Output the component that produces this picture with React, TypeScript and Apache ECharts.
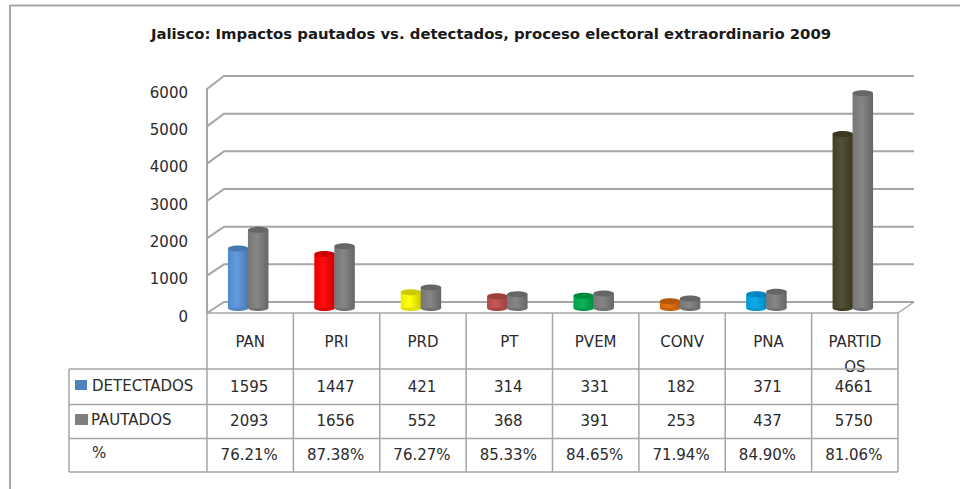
import React, { useEffect, useRef } from "react";
import * as echarts from "echarts";

const categories = ["PAN", "PRI", "PRD", "PT", "PVEM", "CONV", "PNA", "PARTIDOS"];
const detectados = [1595, 1447, 421, 314, 331, 182, 371, 4661];
const pautados = [2093, 1656, 552, 368, 391, 253, 437, 5750];
const porcentajes = ["76.21%", "87.38%", "76.27%", "85.33%", "84.65%", "71.94%", "84.90%", "81.06%"];
const detectadosColors = ["#5a96dc", "#ff0000", "#ffff00", "#c0504d", "#00b050", "#e36c0a", "#00a8ec", "#4a452a"];
const pautadosColor = "#808080";
const yTicks = [0, 1000, 2000, 3000, 4000, 5000, 6000];
const rowLabels = ["DETECTADOS", "PAUTADOS", "%"];
const title = "Jalisco: Impactos pautados vs. detectados, proceso electoral extraordinario 2009";

const FONT = "DejaVu Sans";
const LINE = "#a6a6a6";
const TEXT = "#2b2b2b";
const G = { left: 207, right: 898, top: 89, bottom: 313 };
const ROWS = [369, 404.5, 438.5, 472];
const TABLE_LEFT = 69;
const BAND = (G.right - G.left) / categories.length;

function shade(hex: string, k: number) {
  const n = parseInt(hex.slice(1), 16);
  const f = (c: number) => Math.max(0, Math.min(255, Math.round(k < 1 ? c * k : c + (255 - c) * (k - 1))));
  return `rgb(${f((n >> 16) & 255)},${f((n >> 8) & 255)},${f(n & 255)})`;
}

function cylinder(offset: number, colorAt: (i: number) => string) {
  return (params: any, api: any) => {
    const i = api.value(0);
    const v = api.value(1);
    const cx = api.coord([i, 0])[0] - 2 + offset;
    const y0 = api.coord([i, 0])[1] - 5;
    const y1 = api.coord([i, v])[1] - 5;
    const w = 20.5;
    const ry = 3;
    const c = colorAt(i);
    const grad = new echarts.graphic.LinearGradient(0, 0, 1, 0, [
      { offset: 0, color: shade(c, 0.92) },
      { offset: 0.45, color: shade(c, 1.05) },
      { offset: 1, color: shade(c, 0.8) },
    ]);
    return {
      type: "group",
      children: [
        { type: "ellipse", shape: { cx, cy: y0, rx: w / 2, ry }, style: { fill: shade(c, 0.88) } },
        { type: "rect", shape: { x: cx - w / 2, y: y1, width: w, height: y0 - y1 }, style: { fill: grad } },
        { type: "ellipse", shape: { cx, cy: y1, rx: w / 2, ry }, style: { fill: shade(c, 0.8) } },
      ],
    };
  };
}

function wallLines(params: any, api: any) {
  const v = api.value(0);
  const y = api.coord([0, v])[1];
  const dy = 11 + (2 * v) / 6000;
  const children: any[] = [
    {
      type: "polyline",
      shape: { points: [[G.left, y], [G.left + 17, y - dy], [G.right + 16, y - dy]] },
      style: { fill: "none", stroke: LINE, lineWidth: 2 },
    },
  ];
  if (v === 0) {
    children.push({
      type: "line",
      shape: { x1: G.right, y1: y, x2: G.right + 16, y2: y - dy },
      style: { stroke: LINE, lineWidth: 1.5 },
    });
  }
  return { type: "group", children };
}

function tableGraphics() {
  const els: any[] = [];
  const line = (x1: number, y1: number, x2: number, y2: number, w = 1.5) =>
    els.push({ type: "line", z: 5, shape: { x1, y1, x2, y2 }, style: { stroke: LINE, lineWidth: w } });
  const txt = (s: string, x: number, y: number, align = "center") =>
    els.push({
      type: "text", z: 6, x, y,
      style: { text: s, font: `15px "${FONT}"`, fill: TEXT, align, verticalAlign: "middle" },
    });

  // frame
  line(10, 5.5, 960, 5.5, 2);
  line(10, 5, 10, 489, 2);

  // grid of the table
  for (let i = 0; i <= categories.length; i++) line(G.left + i * BAND, G.bottom, G.left + i * BAND, ROWS[3]);
  line(TABLE_LEFT, ROWS[0], TABLE_LEFT, ROWS[3]);
  ROWS.forEach((y) => line(TABLE_LEFT, y, G.right, y));

  // row headers
  els.push({ type: "rect", z: 6, shape: { x: 75, y: 380, width: 12, height: 10 }, style: { fill: "#4f81bd" } });
  els.push({ type: "rect", z: 6, shape: { x: 75, y: 414, width: 13, height: 11 }, style: { fill: "#7f7f7f" } });
  txt(rowLabels[0], 92, 386, "left");
  txt(rowLabels[1], 91, 420, "left");
  txt(rowLabels[2], 92, 453, "left");

  // row values
  categories.forEach((_, i) => {
    const cx = G.left + (i + 0.5) * BAND - 1;
    txt(String(detectados[i]), cx, 387);
    txt(String(pautados[i]), cx, 421);
    txt(porcentajes[i], cx, 455);
  });
  return els;
}

export default function App() {
  const ref = useRef<HTMLDivElement>(null);
  useEffect(() => {
    const chart = echarts.init(ref.current!, null, { renderer: "svg" });
    chart.setOption({
      animation: false,
      backgroundColor: "#ffffff",
      title: {
        text: title,
        left: 486,
        top: 21,
        textAlign: "center",
        textStyle: { fontFamily: FONT, fontSize: 14.85, fontWeight: "bold", color: "#1a1a1a" },
      },
      grid: { left: G.left, top: G.top, width: G.right - G.left, height: G.bottom - G.top, containLabel: false },
      xAxis: {
        type: "category",
        data: categories,
        axisLine: { show: true, lineStyle: { color: LINE, width: 1.5 } },
        axisTick: { show: false },
        axisLabel: {
          interval: 0,
          margin: 16,
          lineHeight: 25,
          fontFamily: FONT,
          fontSize: 15,
          color: TEXT,
          verticalAlign: "top",
          formatter: (s: string) => (s.length > 6 ? s.slice(0, 6) + "\n" + s.slice(6) : s),
        },
      },
      yAxis: {
        type: "value",
        min: 0,
        max: 6000,
        interval: 1000,
        axisLine: { show: true, lineStyle: { color: LINE, width: 2 } },
        axisTick: { show: false },
        splitLine: { show: false },
        axisLabel: {
          margin: 19,
          fontFamily: FONT,
          fontSize: 15,
          color: TEXT,
          verticalAlign: "top",
          lineHeight: 7,
          formatter: (v: number) => String(v),
        },
      },
      series: [
        { type: "custom", name: "walls", silent: true, clip: false, z: 1, data: yTicks.map((v) => [v]), encode: { y: 0 }, renderItem: wallLines },
        {
          type: "custom", name: "DETECTADOS", clip: false, z: 2,
          data: detectados.map((v, i) => [i, v]),
          encode: { x: 0, y: 1 },
          renderItem: cylinder(-10, (i) => detectadosColors[i]),
        },
        {
          type: "custom", name: "PAUTADOS", clip: false, z: 3,
          data: pautados.map((v, i) => [i, v]),
          encode: { x: 0, y: 1 },
          renderItem: cylinder(10, () => pautadosColor),
        },
      ],
      graphic: tableGraphics(),
    });
    return () => chart.dispose();
  }, []);
  return <div ref={ref} style={{ position: "absolute", left: 0, top: 0, width: 960, height: 489 }} />;
}
